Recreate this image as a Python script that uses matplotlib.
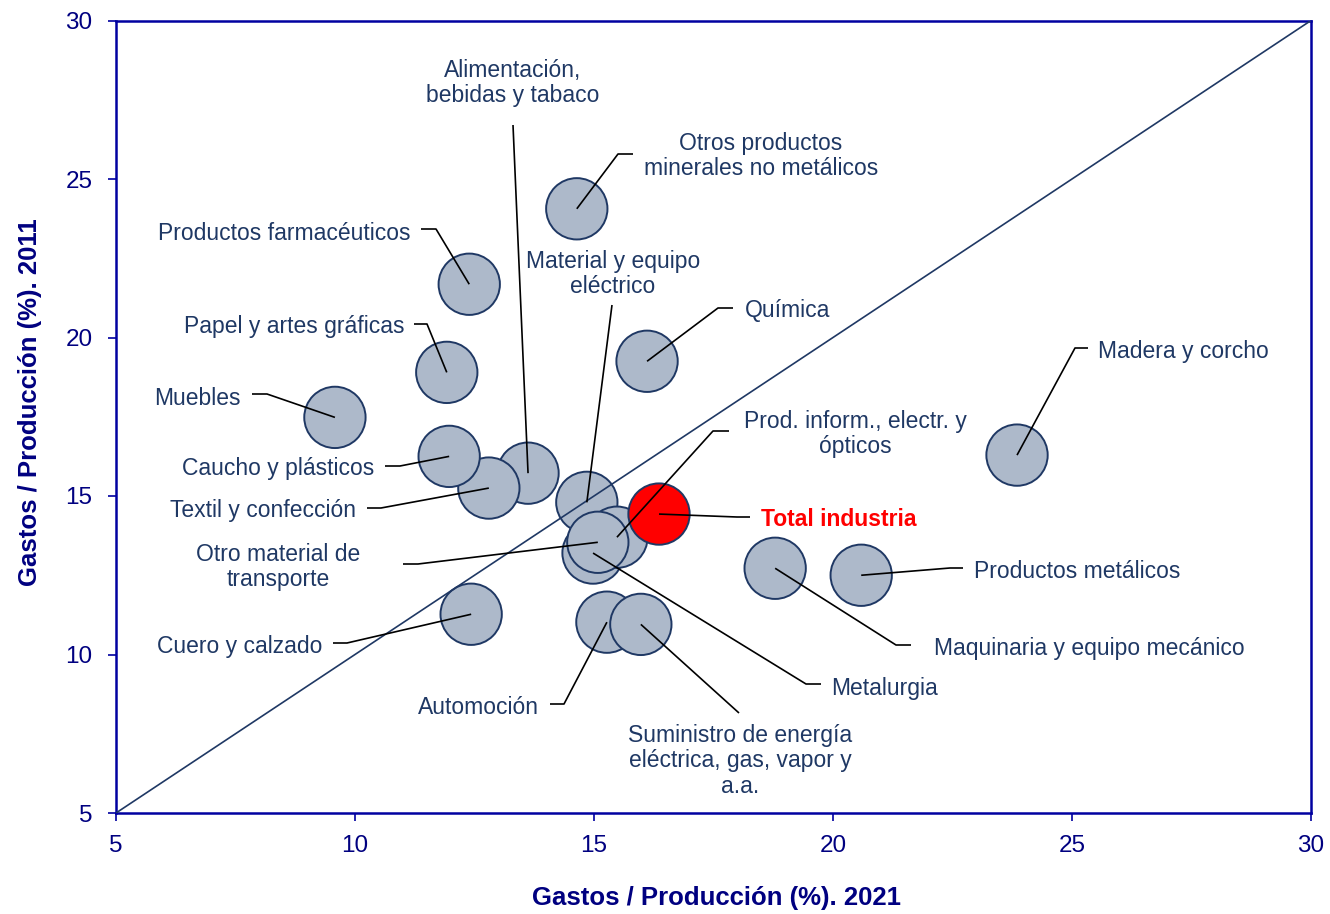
import matplotlib
matplotlib.use("Agg")
import matplotlib.pyplot as plt

plt.rcParams['font.family'] = ['Liberation Sans', 'DejaVu Sans']

# ---------------- data ----------------
sectors = [
    "Otros productos\nminerales no metálicos",
    "Productos farmacéuticos",
    "Química",
    "Papel y artes gráficas",
    "Muebles",
    "Madera y corcho",
    "Alimentación,\nbebidas y tabaco",
    "Textil y confección",
    "Caucho y plásticos",
    "Material y equipo\neléctrico",
    "Metalurgia",
    "Prod. inform., electr. y\nópticos",
    "Otro material de\ntransporte",
    "Maquinaria y equipo mecánico",
    "Productos metálicos",
    "Cuero y calzado",
    "Automoción",
    "Suministro de energía\neléctrica, gas, vapor y\na.a.",
    "Total industria",
]
gastos_2021 = [14.64, 12.39, 16.11, 11.92, 9.58, 23.85, 13.62, 12.80, 11.97,
               14.85, 14.98, 15.48, 15.08, 18.79, 20.59, 12.43, 15.27, 15.98, 16.36]
gastos_2011 = [24.06, 21.68, 19.25, 18.90, 17.48, 16.29, 15.72, 15.25, 16.25,
               14.80, 13.20, 13.70, 13.54, 12.72, 12.50, 11.27, 11.02, 10.95, 14.43]
is_total = [False] * 18 + [True]

x_ticks = [5, 10, 15, 20, 25, 30]
y_ticks = [5, 10, 15, 20, 25, 30]

# ---------------- layout (reference-pixel positions of labels / leader knees) ----------------
W, H = 1330, 914
AX_L, AX_R, AX_T, AX_B = 116, 1311, 20.5, 813
XMIN, XMAX, YMIN, YMAX = 5, 30, 5, 30

# label anchor (px), horizontal alignment, leader path points after bubble (px)
label_layout = [
    ((761, 156), 'center', [(618, 154), (633, 154)]),
    ((411, 233), 'right', [(436, 229), (421, 229)]),
    ((745, 311), 'left', [(718, 308), (733, 308)]),
    ((404, 327), 'right', [(427, 324), (414, 324)]),
    ((241, 398), 'right', [(267, 394), (252, 394)]),
    ((1098, 351), 'left', [(1075, 348), (1088, 348)]),
    ((513, 83), 'center', [(513, 125)]),
    ((356, 511), 'right', [(381, 508), (367, 508)]),
    ((374, 468), 'right', [(400, 466), (385, 466)]),
    ((613, 274), 'center', [(612, 305)]),
    ((831, 688), 'left', [(806, 684), (821, 684)]),
    ((855, 434), 'center', [(713, 431), (729, 431)]),
    ((278, 567), 'center', [(418, 564), (403, 564)]),
    ((934, 648), 'left', [(896, 645), (911, 645)]),
    ((974, 571), 'left', [(950, 568), (963, 568)]),
    ((322, 646), 'right', [(347, 643), (333, 643)]),
    ((539, 707), 'right', [(564, 704), (550, 704)]),
    ((740, 761), 'center', [(739, 713)]),
    ((761, 520), 'left', [(737, 517), (750, 517)]),
]


def px2data(px, py):
    x = XMIN + (px - AX_L) / (AX_R - AX_L) * (XMAX - XMIN)
    y = YMAX - (py - AX_T) / (AX_B - AX_T) * (YMAX - YMIN)
    return x, y


SPINE = '#0000A0'
TICKC = '#000080'
TEXTC = '#1F3864'
FILL = '#ADB9CA'
RED = '#FF0000'

fig = plt.figure(figsize=(W / 100, H / 100), dpi=100)
ax = fig.add_axes([AX_L / W, 1 - AX_B / H, (AX_R - AX_L) / W, (AX_B - AX_T) / H])
ax.set_xlim(XMIN, XMAX)
ax.set_ylim(YMIN, YMAX)

# diagonal y = x
ax.plot([XMIN, XMAX], [YMIN, YMAX], color=TEXTC, lw=1.2, zorder=5)

colors = [RED if t else FILL for t in is_total]
ax.scatter(gastos_2021, gastos_2011, s=1950, c=colors, edgecolors=TEXTC,
           linewidths=1.4, zorder=3)

for name, x, y, tot, (anchor, ha, path) in zip(sectors, gastos_2021, gastos_2011,
                                               is_total, label_layout):
    pts = [(x, y)] + [px2data(*p) for p in path]
    ax.plot([p[0] for p in pts], [p[1] for p in pts], color='black', lw=1.2,
            zorder=6, solid_capstyle='butt')
    tx, ty = px2data(*anchor)
    ax.text(tx, ty, name, ha=ha, va='center', multialignment='center',
            fontsize=16.5,
            fontweight='bold' if tot else 'normal',
            color=RED if tot else TEXTC, linespacing=1.12, zorder=7)

for s in ax.spines.values():
    s.set_color(SPINE)
    s.set_linewidth(1.8)

ax.set_xticks(x_ticks)
ax.set_yticks(y_ticks)
ax.tick_params(axis='both', direction='out', length=6, width=1.2, color=SPINE,
               labelcolor=TICKC, labelsize=17.5)
ax.tick_params(axis='x', pad=10)
ax.tick_params(axis='y', pad=11)

fig.text(717 / W, 1 - 898 / H, "Gastos / Producción (%). 2021", ha='center',
         va='center', fontsize=18.5, fontweight='bold', color=TICKC)
fig.text(30 / W, 1 - 402 / H, "Gastos / Producción (%). 2011", ha='center',
         va='center', rotation=90, fontsize=18.5, fontweight='bold', color=TICKC)

fig.savefig("out.png", dpi=100)
